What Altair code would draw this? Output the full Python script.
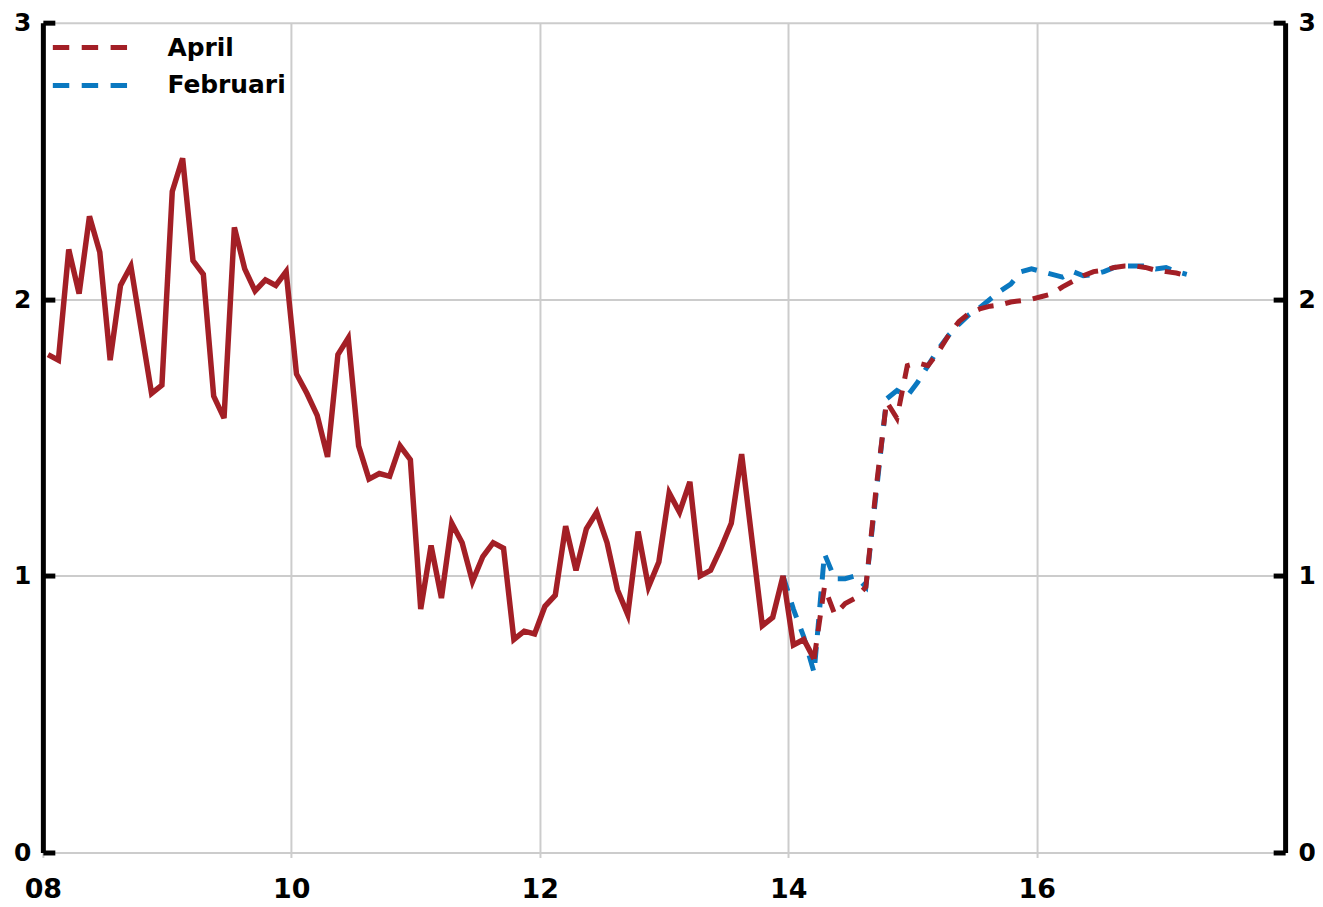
import altair as alt
import pandas as pd

# ---- data (monthly, index 0 = Jan 2008) ----
hist_values = [
    1.80, 1.78, 2.18, 2.02, 2.30, 2.17, 1.78, 2.05, 2.12, 1.89, 1.66, 1.69,
    2.39, 2.51, 2.14, 2.09, 1.65, 1.57, 2.26, 2.11, 2.03, 2.07, 2.05, 2.10,
    1.73, 1.66, 1.58, 1.43, 1.80, 1.86, 1.47, 1.35, 1.37, 1.36, 1.47, 1.42,
    0.88, 1.11, 0.92, 1.19, 1.12, 0.98, 1.07, 1.12, 1.10, 0.77, 0.80, 0.79,
    0.89, 0.93, 1.18, 1.02, 1.17, 1.23, 1.12, 0.95, 0.86, 1.16, 0.96, 1.05,
    1.30, 1.23, 1.34, 1.00, 1.02, 1.10, 1.19, 1.44, 1.13, 0.82, 0.85, 1.00,
    0.75, 0.77, 0.70,
]
hist_start = 0

april_values = [
    0.70, 0.96, 0.86, 0.90, 0.92, 0.96, 1.32, 1.63, 1.57, 1.76, 1.77, 1.76,
    1.81, 1.87, 1.92, 1.95, 1.965, 1.975, 1.98, 1.99, 1.995, 2.00, 2.01, 2.02,
    2.045, 2.065, 2.085, 2.10, 2.105, 2.115, 2.12, 2.12, 2.115, 2.105, 2.10,
    2.095, 2.085,
]
april_start = 74

feb_values = [
    1.00, 0.88, 0.78, 0.65, 1.08, 0.99, 0.99, 1.00, 0.96, 1.30, 1.64, 1.67,
    1.65, 1.70, 1.76, 1.82, 1.87, 1.91, 1.945, 1.97, 2.00, 2.03, 2.055, 2.10,
    2.11, 2.10, 2.09, 2.08, 2.10, 2.085, 2.09, 2.10, 2.115, 2.12, 2.12, 2.12,
    2.11, 2.115, 2.10, 2.09,
]
feb_start = 71

series_names = ["April", "Februari"]
x_ticks = [2008, 2010, 2012, 2014, 2016]
y_ticks = [0, 1, 2, 3]

RED = "#a31f26"
BLUE = "#0a78c0"
GRID = "#cccccc"
FONT = "DejaVu Sans"


def frame(values, start, name):
    return pd.DataFrame({
        "t": [2008 + (start + k + 0.5) / 12 for k in range(len(values))],
        "v": values,
        "series": name,
    })


hist_df = frame(hist_values, hist_start, "Utfall")
april_df = frame(april_values, april_start, "April")
feb_df = frame(feb_values, feb_start, "Februari")

x_axis = alt.Axis(
    values=x_ticks, labelExpr="slice(toString(datum.value), 2)", title=None,
    grid=True, gridColor=GRID, gridWidth=2, domain=False,
    ticks=True, tickColor=GRID, tickWidth=2, tickSize=5,
    labelFont=FONT, labelFontWeight="bold", labelFontSize=27, labelColor="black",
    labelPadding=19, labelFlush=False, labelOverlap=False, labelBound=False,
)
x_enc = alt.X("t:Q", scale=alt.Scale(domain=[2008, 2018], nice=False, zero=False), axis=x_axis)
y_scale = alt.Scale(domain=[0, 3], nice=False)

left_main = alt.Axis(
    orient="left", values=y_ticks, format="d", title=None,
    grid=True, gridColor=GRID, gridWidth=2,
    domain=True, domainColor="black", domainWidth=5,
    ticks=False, tickSize=0, labelPadding=12,
    labelFont=FONT, labelFontWeight="bold", labelFontSize=25, labelColor="black",
)
right_main = alt.Axis(
    orient="right", values=y_ticks, format="d", title=None, grid=False,
    domain=True, domainColor="black", domainWidth=5,
    ticks=False, tickSize=0, labelPadding=13,
    labelFont=FONT, labelFontWeight="bold", labelFontSize=25, labelColor="black",
)
left_ticks = alt.Axis(
    orient="left", values=y_ticks, title=None, grid=False, domain=False, labels=False,
    offset=-12, ticks=True, tickSize=12, tickWidth=5, tickColor="black",
)
right_ticks = alt.Axis(
    orient="right", values=y_ticks, title=None, grid=False, domain=False, labels=False,
    offset=-12, ticks=True, tickSize=12, tickWidth=5, tickColor="black",
)

# long dashed legend key drawn as a custom horizontal stroke path
legend = alt.Legend(
    title=None, orient="none", legendX=22.5, legendY=0, padding=0,
    symbolType="M-1.6667,0H1.6667", symbolSize=2025, symbolStrokeWidth=5,
    symbolDash=[16.5, 12.5], symbolFillColor="transparent",
    labelFont=FONT, labelFontWeight="bold", labelFontSize=25, labelColor="black",
    labelOffset=52.5, rowPadding=0,
)
color_enc = alt.Color("series:N", scale=alt.Scale(domain=series_names, range=[RED, BLUE]), legend=legend)

feb_layer = alt.Chart(feb_df).mark_line(strokeWidth=5, strokeDash=[16, 12]).encode(
    x=x_enc, y=alt.Y("v:Q", scale=y_scale, axis=left_main), color=color_enc
)
april_layer = alt.Chart(april_df).mark_line(strokeWidth=5, strokeDash=[16, 12]).encode(
    x=x_enc, y=alt.Y("v:Q", scale=y_scale, axis=right_main), color=color_enc
)
hist_layer = alt.Chart(hist_df).mark_line(strokeWidth=5.5, color=RED).encode(
    x=x_enc, y=alt.Y("v:Q", scale=y_scale, axis=left_ticks)
)
ghost_layer = alt.Chart(hist_df).mark_line(strokeWidth=1, color=RED, opacity=0).encode(
    x=x_enc, y=alt.Y("v:Q", scale=y_scale, axis=right_ticks)
)

chart = (
    alt.layer(feb_layer, april_layer, hist_layer, ghost_layer)
    .resolve_axis(y="independent")
    .properties(
        width=1247, height=833, autosize="none",
        padding={"left": 35, "top": 13, "right": 30, "bottom": 53},
    )
    .configure_view(stroke=None)
)

chart.save("out.html", embed_options={"renderer": "svg", "actions": False})
